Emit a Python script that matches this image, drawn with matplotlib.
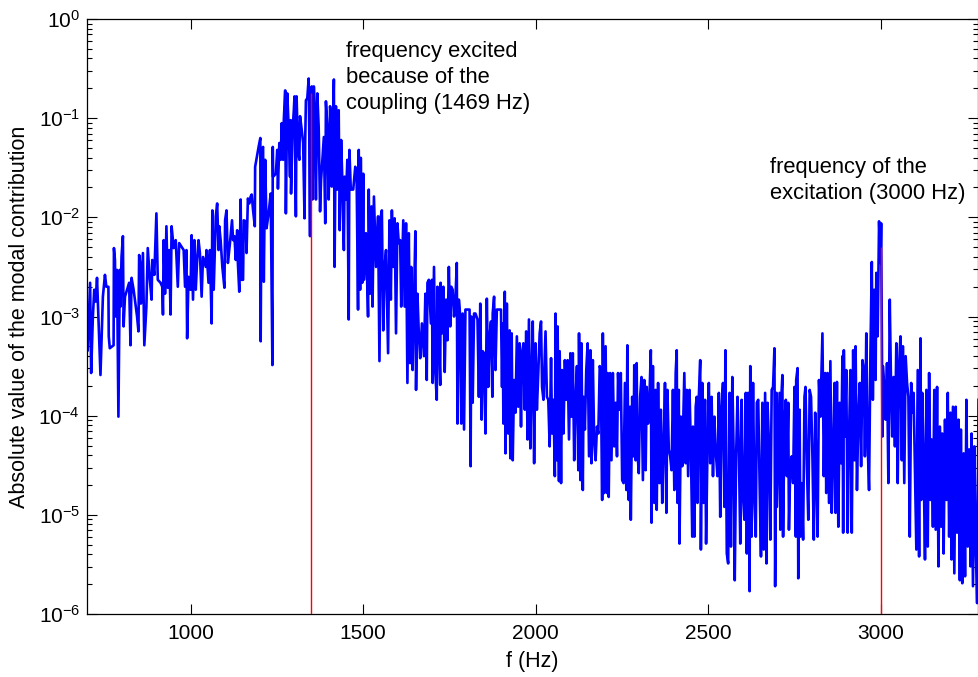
import numpy as np
import matplotlib
matplotlib.use("Agg")
import matplotlib.pyplot as plt
from matplotlib.ticker import NullLocator, NullFormatter, LogLocator

plt.rcParams['font.family'] = ['Liberation Sans', 'DejaVu Sans']

# (frequency in Hz, log10 of |modal contribution|), band by band
band_700_1080 = [
    (702, -3.34), (709, -2.66), (712, -3.57), (717, -3.00), (721, -2.73), (725, -2.85),
    (729, -2.61), (733, -3.00), (739, -3.59), (746, -2.80), (752, -2.58), (756, -2.70),
    (762, -2.70), (763, -3.20), (766, -3.32), (777, -3.29), (778, -2.31), (781, -2.43),
    (783, -3.00), (787, -2.53), (791, -4.01), (795, -2.53), (797, -2.90), (800, -2.40),
    (804, -2.19), (806, -3.10), (810, -2.80), (816, -2.73), (822, -2.66), (826, -3.29),
    (829, -2.61), (835, -2.73), (845, -3.00), (849, -3.15), (851, -2.38), (855, -2.50),
    (856, -2.87), (862, -2.36), (866, -3.29), (872, -2.90), (876, -2.31), (882, -2.63),
    (887, -2.83), (889, -2.43), (895, -2.58), (901, -1.96), (905, -2.63), (913, -2.66),
    (918, -2.70), (920, -2.98), (922, -2.23), (926, -2.77), (930, -2.09), (934, -2.71),
    (938, -2.33), (942, -2.98), (945, -2.09), (951, -2.31), (957, -2.23), (963, -2.70),
    (967, -2.26), (980, -2.33), (984, -2.70), (988, -2.33), (990, -3.22), (994, -2.60),
    (1000, -2.73), (1003, -2.18), (1007, -2.83), (1011, -2.23), (1015, -2.73), (1019, -2.43),
    (1023, -2.23), (1027, -2.36), (1032, -2.80), (1036, -2.40), (1044, -2.50), (1046, -2.33),
    (1052, -2.66), (1056, -2.33), (1061, -3.07), (1063, -1.93), (1067, -2.73), (1073, -1.99),
    (1077, -1.86),
]

band_1080_1455 = [
    (1081, -2.33), (1083, -2.09), (1087, -2.23), (1092, -2.50), (1098, -2.71), (1100, -2.03),
    (1104, -1.93), (1108, -2.46), (1114, -2.26), (1120, -2.03), (1123, -2.23), (1127, -2.19),
    (1131, -2.43), (1135, -2.13), (1137, -2.46), (1141, -2.75), (1145, -1.82), (1147, -2.63),
    (1152, -2.63), (1154, -2.03), (1160, -2.04), (1162, -2.36), (1166, -1.81), (1170, -1.86),
    (1174, -1.79), (1177, -1.77), (1181, -1.93), (1186, -2.09), (1187, -1.49), (1197, -1.29),
    (1202, -1.20), (1203, -3.25), (1206, -1.32), (1210, -1.29), (1212, -2.65), (1216, -1.42),
    (1220, -2.11), (1226, -1.96), (1232, -1.76), (1237, -3.49), (1238, -1.29), (1239, -1.59),
    (1247, -1.56), (1251, -1.32), (1253, -1.71), (1257, -1.25), (1261, -1.42), (1264, -1.05),
    (1268, -1.42), (1270, -1.02), (1274, -0.72), (1276, -1.96), (1280, -0.75), (1284, -1.09),
    (1288, -1.59), (1290, -1.02), (1291, -1.76), (1295, -1.15), (1299, -0.92), (1301, -0.78),
    (1305, -1.99), (1307, -0.78), (1311, -1.32), (1315, -1.42), (1317, -0.98), (1322, -1.12),
    (1326, -1.25), (1330, -2.01), (1332, -1.22), (1334, -0.82), (1338, -0.80), (1342, -0.60),
    (1344, -1.22), (1346, -2.19), (1347, -0.75), (1351, -0.68), (1353, -1.82), (1357, -0.68),
    (1359, -0.85), (1363, -1.82), (1367, -0.75), (1371, -1.09), (1375, -1.94), (1378, -1.62),
    (1386, -1.19), (1390, -2.06), (1392, -0.83), (1396, -1.09), (1400, -1.82), (1404, -0.88),
    (1405, -0.92), (1409, -1.69), (1411, -1.42), (1415, -0.61), (1417, -2.50), (1421, -0.88),
    (1425, -1.72), (1429, -0.92), (1432, -2.13), (1436, -1.22), (1440, -1.69), (1444, -2.33),
    (1446, -1.59), (1450, -1.82), (1454, -1.42),
]

band_1455_1830 = [
    (1458, -3.03), (1460, -1.32), (1464, -1.72), (1471, -1.72), (1477, -1.49), (1481, -1.62),
    (1485, -2.93), (1487, -1.32), (1491, -2.73), (1493, -1.40), (1497, -2.66), (1500, -1.56),
    (1502, -2.63), (1508, -2.16), (1514, -3.00), (1516, -1.72), (1520, -2.77), (1524, -1.89),
    (1527, -2.90), (1531, -1.79), (1537, -2.50), (1543, -1.99), (1547, -3.45), (1551, -1.99),
    (1554, -1.93), (1558, -3.14), (1562, -2.50), (1566, -2.33), (1572, -3.37), (1576, -2.03),
    (1580, -2.83), (1583, -1.93), (1587, -2.50), (1591, -2.01), (1595, -3.17), (1599, -2.06),
    (1603, -2.26), (1607, -2.23), (1610, -2.90), (1616, -2.03), (1620, -2.90), (1624, -2.06),
    (1628, -3.67), (1632, -2.16), (1636, -3.47), (1639, -2.50), (1643, -3.54), (1647, -2.87),
    (1651, -2.14), (1653, -3.74), (1657, -2.77), (1661, -3.17), (1665, -3.42), (1670, -3.07),
    (1676, -3.40), (1680, -2.77), (1684, -3.64), (1686, -2.66), (1690, -2.63), (1696, -3.07),
    (1699, -2.63), (1701, -3.67), (1705, -2.50), (1709, -3.57), (1713, -3.84), (1715, -2.70),
    (1719, -3.17), (1723, -3.69), (1724, -2.66), (1728, -3.17), (1732, -2.70), (1736, -3.56),
    (1740, -2.83), (1744, -3.24), (1748, -2.50), (1752, -3.10), (1755, -2.70), (1759, -2.73),
    (1763, -3.00), (1767, -2.83), (1771, -2.46), (1773, -4.08), (1777, -2.83), (1781, -3.00),
    (1784, -4.08), (1788, -2.97), (1792, -4.14), (1796, -2.93), (1802, -2.93), (1808, -2.93),
    (1811, -4.51), (1813, -3.00), (1817, -3.87), (1821, -2.97), (1825, -2.97),
]

band_1830_2210 = [
    (1831, -3.03), (1835, -3.81), (1839, -2.87), (1843, -4.04), (1846, -3.35), (1850, -3.37),
    (1854, -4.18), (1858, -2.82), (1862, -3.71), (1866, -3.20), (1870, -3.05), (1874, -3.81),
    (1875, -2.97), (1879, -2.80), (1883, -3.54), (1887, -2.93), (1893, -2.93), (1899, -2.93),
    (1902, -3.71), (1904, -3.07), (1906, -4.08), (1910, -2.75), (1912, -4.38), (1916, -2.87),
    (1920, -4.18), (1924, -3.14), (1926, -4.43), (1930, -3.17), (1933, -4.45), (1937, -3.64),
    (1941, -3.97), (1945, -3.20), (1949, -3.91), (1953, -3.27), (1957, -4.11), (1960, -3.37),
    (1964, -3.27), (1968, -3.94), (1972, -3.15), (1976, -4.24), (1980, -3.03), (1984, -4.33),
    (1987, -3.71), (1991, -3.05), (1995, -4.48), (1999, -3.27), (2003, -3.94), (2007, -3.57),
    (2011, -3.17), (2015, -3.05), (2018, -3.71), (2022, -3.84), (2028, -3.15), (2032, -3.81),
    (2036, -3.84), (2040, -4.31), (2044, -3.42), (2047, -4.18), (2051, -3.84), (2055, -4.61),
    (2057, -2.97), (2061, -4.45), (2063, -3.10), (2067, -4.66), (2069, -3.35), (2073, -4.68),
    (2076, -3.54), (2080, -4.18), (2084, -3.44), (2088, -3.84), (2092, -3.44), (2096, -4.24),
    (2100, -3.37), (2103, -4.01), (2107, -3.37), (2111, -4.45), (2115, -3.84), (2119, -3.50),
    (2123, -4.55), (2125, -3.17), (2129, -4.65), (2132, -3.27), (2136, -4.75), (2138, -3.81),
    (2142, -4.14), (2146, -3.54), (2150, -3.27), (2154, -4.41), (2158, -3.34), (2161, -4.48),
    (2165, -3.44), (2169, -4.28), (2173, -4.45), (2177, -4.11), (2181, -4.18), (2185, -3.50),
    (2188, -3.54), (2192, -4.85), (2194, -3.17), (2198, -4.78), (2202, -3.30), (2206, -4.78),
]

band_2210_2580 = [
    (2208, -3.57), (2211, -4.82), (2215, -3.57), (2219, -4.45), (2223, -3.57), (2227, -4.31),
    (2231, -3.87), (2235, -4.41), (2238, -3.57), (2242, -3.94), (2246, -3.57), (2250, -4.65),
    (2254, -4.68), (2258, -3.67), (2262, -4.75), (2265, -3.29), (2269, -4.85), (2273, -3.91),
    (2275, -5.05), (2279, -3.81), (2283, -4.41), (2285, -3.49), (2289, -4.45), (2292, -3.47),
    (2294, -4.34), (2298, -4.58), (2302, -3.81), (2306, -3.61), (2310, -4.65), (2314, -3.64),
    (2318, -4.55), (2321, -3.71), (2325, -4.08), (2329, -3.81), (2333, -3.34), (2335, -5.08),
    (2339, -3.50), (2343, -4.88), (2347, -3.74), (2350, -4.95), (2354, -3.67), (2358, -4.68),
    (2362, -3.94), (2366, -4.88), (2370, -4.31), (2374, -3.67), (2378, -4.98), (2381, -3.74),
    (2385, -4.34), (2389, -4.41), (2393, -4.55), (2397, -3.74), (2401, -4.75), (2405, -3.57),
    (2408, -3.34), (2410, -4.88), (2414, -3.74), (2416, -5.29), (2420, -4.01), (2424, -4.51),
    (2430, -3.57), (2434, -4.48), (2437, -3.74), (2441, -4.61), (2445, -3.74), (2449, -4.34),
    (2453, -5.22), (2455, -4.11), (2459, -5.22), (2463, -3.91), (2466, -3.81), (2468, -4.88),
    (2472, -3.81), (2476, -3.44), (2478, -5.35), (2482, -3.67), (2486, -4.88), (2490, -3.84),
    (2493, -5.29), (2497, -4.34), (2501, -3.67), (2505, -4.48), (2509, -3.81), (2513, -4.61),
    (2517, -4.01), (2520, -4.31), (2526, -4.61), (2530, -3.77), (2534, -5.02), (2538, -3.91),
    (2542, -3.67), (2546, -4.92), (2549, -3.34), (2553, -5.39), (2557, -5.49), (2561, -3.77),
    (2565, -5.32), (2569, -3.61), (2573, -4.41), (2576, -5.66), (2580, -4.41),
]

band_2580_2960 = [
    (2584, -3.81), (2588, -4.34), (2592, -5.29), (2596, -3.84), (2600, -4.82), (2604, -5.05),
    (2608, -3.77), (2611, -5.39), (2615, -3.77), (2619, -5.77), (2621, -3.50), (2625, -5.22),
    (2629, -3.67), (2633, -4.82), (2637, -5.22), (2640, -3.87), (2644, -3.84), (2648, -4.68),
    (2652, -5.42), (2656, -3.87), (2660, -5.35), (2664, -3.77), (2668, -5.49), (2671, -3.87),
    (2675, -4.28), (2679, -5.25), (2683, -3.74), (2687, -3.71), (2691, -3.32), (2693, -5.72),
    (2697, -3.77), (2698, -4.92), (2702, -4.34), (2706, -3.77), (2708, -5.15), (2712, -3.74),
    (2714, -3.59), (2716, -5.22), (2720, -4.08), (2724, -3.84), (2727, -4.61), (2731, -3.87),
    (2733, -5.15), (2737, -4.48), (2741, -4.41), (2745, -4.68), (2749, -3.71), (2753, -5.22),
    (2754, -3.64), (2758, -3.52), (2760, -5.64), (2764, -3.94), (2766, -5.22), (2770, -4.68),
    (2774, -5.25), (2778, -3.81), (2781, -3.71), (2785, -4.51), (2789, -5.05), (2793, -3.74),
    (2797, -3.81), (2801, -4.41), (2805, -5.25), (2809, -3.97), (2812, -4.48), (2816, -5.22),
    (2820, -3.64), (2824, -4.01), (2830, -3.17), (2834, -4.61), (2838, -3.57), (2841, -4.78),
    (2845, -3.57), (2849, -4.88), (2853, -3.45), (2857, -4.98), (2861, -4.41), (2865, -3.67),
    (2868, -4.98), (2872, -3.66), (2876, -5.12), (2880, -3.87), (2884, -4.48), (2888, -3.40),
    (2890, -5.18), (2892, -3.34), (2895, -4.21), (2899, -3.54), (2903, -5.18), (2907, -4.21),
    (2911, -3.54), (2915, -5.18), (2919, -3.34), (2923, -4.45), (2926, -3.30), (2930, -4.75),
    (2934, -4.01), (2938, -3.67), (2942, -4.51), (2946, -3.44), (2950, -3.54), (2953, -4.41),
    (2957, -3.17), (2961, -4.28),
]

band_2960_3285 = [
    (2965, -4.75), (2969, -3.37), (2973, -2.45), (2976, -3.84), (2980, -2.73), (2984, -3.64),
    (2986, -2.56), (2990, -3.20), (2994, -2.04), (2998, -2.46), (3000, -2.06), (3004, -4.21),
    (3005, -3.50), (3009, -3.71), (3013, -4.04), (3017, -3.47), (3021, -4.68), (3025, -2.83),
    (3029, -3.77), (3032, -4.21), (3036, -3.61), (3040, -4.31), (3044, -3.27), (3048, -4.68),
    (3052, -3.50), (3056, -3.20), (3060, -4.45), (3063, -3.30), (3067, -4.68), (3071, -3.40),
    (3075, -3.67), (3079, -3.81), (3083, -5.22), (3087, -3.67), (3090, -3.97), (3094, -3.77),
    (3098, -4.58), (3102, -5.35), (3106, -3.54), (3110, -5.42), (3114, -3.22), (3116, -4.85),
    (3119, -3.77), (3123, -4.45), (3127, -5.45), (3131, -3.74), (3135, -5.32), (3139, -3.57),
    (3143, -4.85), (3146, -4.24), (3150, -5.12), (3154, -3.74), (3158, -5.15), (3162, -3.71),
    (3166, -5.52), (3170, -4.11), (3174, -5.12), (3177, -4.18), (3181, -5.39), (3185, -4.04),
    (3189, -4.85), (3193, -3.77), (3197, -5.22), (3201, -3.97), (3204, -5.45), (3208, -3.91),
    (3212, -5.59), (3216, -3.91), (3220, -5.18), (3224, -4.04), (3228, -5.66), (3231, -4.14),
    (3235, -5.69), (3239, -4.38), (3243, -5.62), (3247, -3.84), (3251, -5.32), (3255, -4.34),
    (3259, -5.52), (3262, -4.18), (3266, -5.72), (3270, -4.31), (3274, -5.32), (3278, -5.89),
    (3282, -3.84),
]

# red marker lines (frequency, top value)
marker_freqs = [1350, 3000]
marker_tops = [0.18, 0.005]

x_ticks = [1000, 1500, 2000, 2500, 3000]

bands = [band_700_1080, band_1080_1455, band_1455_1830, band_1830_2210,
         band_2210_2580, band_2580_2960, band_2960_3285]
pts = np.array([p for b in bands for p in b], dtype=float)
freq = pts[:, 0]
amp = 10.0 ** pts[:, 1]

fig = plt.figure(figsize=(9.79, 6.77), dpi=100)
ax = fig.add_axes([87 / 979, 63 / 677, 891.5 / 979, 595 / 677])

ax.semilogy(freq, amp, color='#0000ff', lw=1.9, zorder=2)
ax.vlines(marker_freqs, 1e-6, marker_tops, colors='#ff0000', lw=1.0, zorder=3)

ax.set_xlim(700, 3282)
ax.set_ylim(1e-6, 1)
ax.set_xticks(x_ticks)
ax.xaxis.set_minor_locator(NullLocator())
ax.yaxis.set_major_locator(LogLocator(base=10, numticks=10))
ax.yaxis.set_minor_locator(LogLocator(base=10, subs=np.arange(2, 10), numticks=10))
ax.yaxis.set_minor_formatter(NullFormatter())

ax.tick_params(which='both', direction='in', top=True, right=True, width=0.8)
ax.tick_params(which='major', length=7, labelsize=15)
ax.tick_params(which='minor', length=3.5)
ax.tick_params(axis='x', pad=7)
ax.tick_params(axis='y', pad=5)
for s in ax.spines.values():
    s.set_linewidth(0.9)

ax.set_xlabel('f (Hz)', fontsize=15.5)
ax.set_ylabel('Absolute value of the modal contribution', fontsize=15.5)
ax.xaxis.set_label_coords(0.5, -0.062)
ax.yaxis.set_label_coords(-0.064, 0.5)

ax.text(0.2905, 0.963, 'frequency excited\nbecause of the\ncoupling (1469 Hz)',
        transform=ax.transAxes, fontsize=15.8, va='top', ha='left', linespacing=1.32)
ax.text(0.766, 0.768, 'frequency of the\nexcitation (3000 Hz)',
        transform=ax.transAxes, fontsize=15.8, va='top', ha='left', linespacing=1.32)

fig.savefig('out.png', dpi=100)
